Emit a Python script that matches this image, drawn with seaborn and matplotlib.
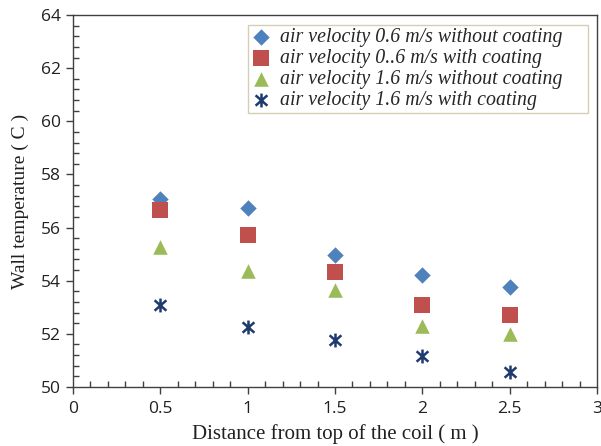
import pandas as pd
import matplotlib.pyplot as plt
import seaborn as sns
from matplotlib.ticker import MultipleLocator
from matplotlib.path import Path

# distances along the coil (m)
distance = [0.5, 1.0, 1.5, 2.0, 2.5]

# wall temperatures (C)
v06_no_coat = [57.08, 56.75, 54.98, 54.22, 53.78]
v06_coat = [56.67, 55.72, 54.33, 53.09, 52.71]
v16_no_coat = [55.25, 54.35, 53.66, 52.31, 52.01]
v16_coat = [53.07, 52.27, 51.75, 51.17, 50.58]

series_names = [
    "air velocity 0.6 m/s without coating",
    "air velocity 0..6 m/s with coating",
    "air velocity 1.6 m/s without coating",
    "air velocity 1.6 m/s with coating",
]

# build a long dataframe for seaborn
rows = []
for name, vals in zip(series_names, [v06_no_coat, v06_coat, v16_no_coat, v16_coat]):
    for d, t in zip(distance, vals):
        rows.append({"Distance": d, "Temp": t, "Serie": name})
df = pd.DataFrame(rows)

# excel-like star: an X with a vertical bar through it
star = Path([(0, -1), (0, 1), (-0.85, -0.75), (0.85, 0.75), (-0.85, 0.75), (0.85, -0.75)],
            [Path.MOVETO, Path.LINETO, Path.MOVETO, Path.LINETO, Path.MOVETO, Path.LINETO])

colors = ["#4F81BD", "#C0504D", "#9BBB59", "#1F3A6E"]
markers = ["D", "s", "^", star]
sizes = [70, 120, 110, 100]

sns.set_style("white")
fig = plt.figure(figsize=(6.01, 4.46), dpi=100)
ax = fig.add_axes([0.1215, 0.1323, 0.8718, 0.8341])

for name, c, m, s in zip(series_names, colors, markers, sizes):
    sub = df[df["Serie"] == name]
    sns.scatterplot(data=sub, x="Distance", y="Temp", color=c, marker=m, s=s,
                    linewidth=1.8 if m is star else 0, edgecolor=c,
                    label=name, ax=ax, zorder=3)

ax.set_xlim(0, 3)
ax.set_ylim(50, 64)
ax.xaxis.set_major_locator(MultipleLocator(0.5))
ax.xaxis.set_minor_locator(MultipleLocator(0.1))
ax.yaxis.set_major_locator(MultipleLocator(2))
ax.yaxis.set_minor_locator(MultipleLocator(0.4))
ax.set_xticks([0, 0.5, 1, 1.5, 2, 2.5, 3])
ax.set_xticklabels(["0", "0.5", "1", "1.5", "2", "2.5", "3"])

ax.tick_params(axis="both", which="major", direction="out", length=5, width=1,
               color="#404040", labelsize=12.5, labelcolor="#202020", pad=4,
               bottom=True, left=True)
ax.tick_params(axis="x", which="major", pad=5)
ax.tick_params(axis="both", which="minor", direction="in", length=4, width=1,
               color="#404040", bottom=True, left=True)
for lab in ax.get_xticklabels() + ax.get_yticklabels():
    lab.set_fontfamily("Open Sans")

for sp in ax.spines.values():
    sp.set_color("#404040")
    sp.set_linewidth(1.0)

ax.set_xlabel("Distance from top of the coil ( m )", fontfamily="Liberation Serif",
              fontsize=15, color="#202020", labelpad=5)
ax.set_ylabel("Wall temperature ( C )", fontfamily="Liberation Serif",
              fontsize=14, color="#202020", labelpad=8)

leg = ax.legend(loc="upper left", bbox_to_anchor=(0.334, 0.973, 0.649, 0.0),
                mode="expand", frameon=True,
                fancybox=False, edgecolor="#C9C2A2", handletextpad=0.45,
                handlelength=1.0, borderpad=0.15, labelspacing=0.1,
                borderaxespad=0,
                prop={"family": "Liberation Serif", "style": "italic", "size": 14.3})
leg.get_frame().set_linewidth(1.0)

fig.savefig("out.png", dpi=100)
